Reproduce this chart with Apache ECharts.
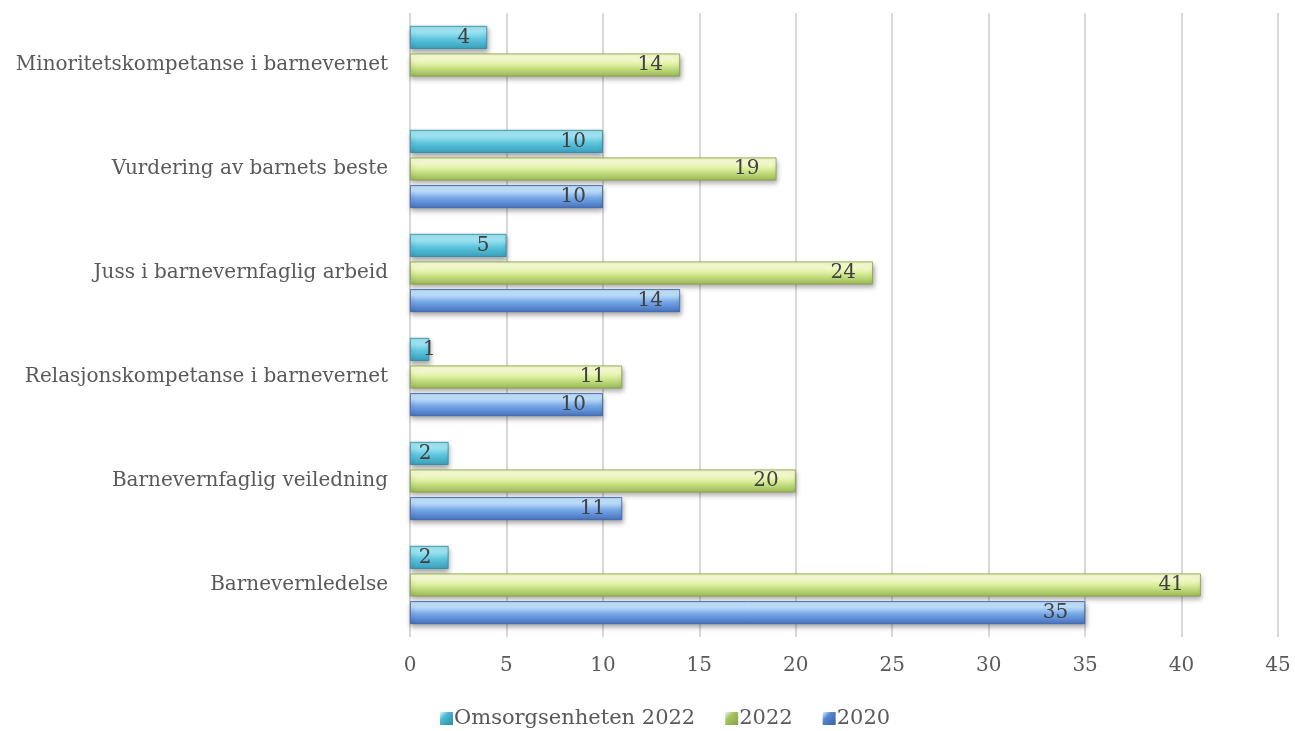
<!DOCTYPE html>
<html>
<head>
<meta charset="utf-8">
<script src="https://cdn.jsdelivr.net/npm/echarts@6/dist/echarts.min.js"></script>
<style>
  html, body { margin: 0; padding: 0; background: #ffffff; }
  #chart { width: 1295px; height: 731px; }
</style>
</head>
<body>
<div id="chart"></div>
<script>
// Categories listed bottom to top along the y axis
const categories = [
  'Barnevernledelse',
  'Barnevernfaglig veiledning',
  'Relasjonskompetanse i barnevernet',
  'Juss i barnevernfaglig arbeid',
  'Vurdering av barnets beste',
  'Minoritetskompetanse i barnevernet'
];
const seriesNames = ['Omsorgsenheten 2022', '2022', '2020'];
const valuesOmsorg2022 = [2, 2, 1, 5, 10, 4];
const values2022 = [41, 20, 11, 24, 19, 14];
const values2020 = [35, 11, 10, 14, 10, null];
const xTicks = [0, 5, 10, 15, 20, 25, 30, 35, 40, 45];

const FONT = 'DejaVu Serif';

// Vertical gradient giving the bars a bevelled, glossy look
function bevel(edgeTop, light, mid, dark) {
  return {
    type: 'linear', x: 0, y: 0, x2: 0, y2: 1,
    colorStops: [
      { offset: 0, color: edgeTop },
      { offset: 0.1, color: light },
      { offset: 0.25, color: light },
      { offset: 0.55, color: mid },
      { offset: 1, color: dark }
    ]
  };
}

const palette = [
  { fill: bevel('#78d0e5', '#a4e8f6', '#62c6de', '#359fbb'), border: '#2f8aa0', icon: '#4bbad4' },
  { fill: bevel('#dff0a8', '#f9fed2', '#d4ea92', '#98b855'), border: '#86a04a', icon: '#a6c660' },
  { fill: bevel('#94c2f0', '#c2e2fd', '#77a8e6', '#4571bf'), border: '#3b62a4', icon: '#5687d0' }
];

function makeSeries(name, values, style) {
  // very short bars get their label pushed just past the bar start
  const data = values.map(function (v) {
    if (v !== null && v < 2) {
      return { value: v, label: { position: 'insideLeft', distance: 13 } };
    }
    return v;
  });
  return {
    name: name,
    type: 'bar',
    data: data,
    barWidth: 23,
    barGap: '20%',
    itemStyle: {
      color: style.fill,
      borderColor: style.border,
      borderWidth: 0.8,
      shadowColor: 'rgba(0,0,0,0.35)',
      shadowBlur: 5,
      shadowOffsetX: 1,
      shadowOffsetY: 3
    },
    label: {
      show: true,
      position: 'insideRight',
      distance: 17,
      color: '#404040',
      fontFamily: FONT,
      fontSize: 20
    },
    emphasis: { disabled: true }
  };
}

const chart = echarts.init(document.getElementById('chart'));
chart.setOption({
  animation: false,
  backgroundColor: '#ffffff',
  grid: { left: 410, right: 17, top: 13, bottom: 94, containLabel: false },
  legend: {
    bottom: -3,
    left: 435,
    itemWidth: 13,
    itemHeight: 13,
    itemGap: 30,
    icon: 'rect',
    data: seriesNames.map(function (n, i) {
      return {
        name: n,
        itemStyle: {
          color: { type: 'linear', x: 0, y: 0, x2: 1, y2: 1,
            colorStops: [{ offset: 0, color: '#e8f6ff' }, { offset: 0.35, color: palette[i].icon }, { offset: 1, color: palette[i].border }] },
          borderWidth: 0,
          shadowBlur: 0
        }
      };
    }),
    textStyle: { fontFamily: FONT, fontSize: 21, color: '#595959', padding: [0, 0, 0, -4] }
  },
  xAxis: {
    type: 'value',
    min: xTicks[0],
    max: xTicks[xTicks.length - 1],
    interval: 5,
    axisLine: { show: false },
    axisTick: { show: false },
    splitLine: { lineStyle: { color: '#d9d9d9', width: 2 } },
    axisLabel: { color: '#595959', fontFamily: FONT, fontSize: 20, margin: 19 }
  },
  yAxis: {
    type: 'category',
    data: categories,
    axisLine: { show: false },
    axisTick: { show: false },
    axisLabel: { color: '#595959', fontFamily: FONT, fontSize: 20, margin: 22 }
  },
  series: [
    makeSeries(seriesNames[0], valuesOmsorg2022, palette[0]),
    makeSeries(seriesNames[1], values2022, palette[1]),
    makeSeries(seriesNames[2], values2020, palette[2])
  ]
});
</script>
</body>
</html>
